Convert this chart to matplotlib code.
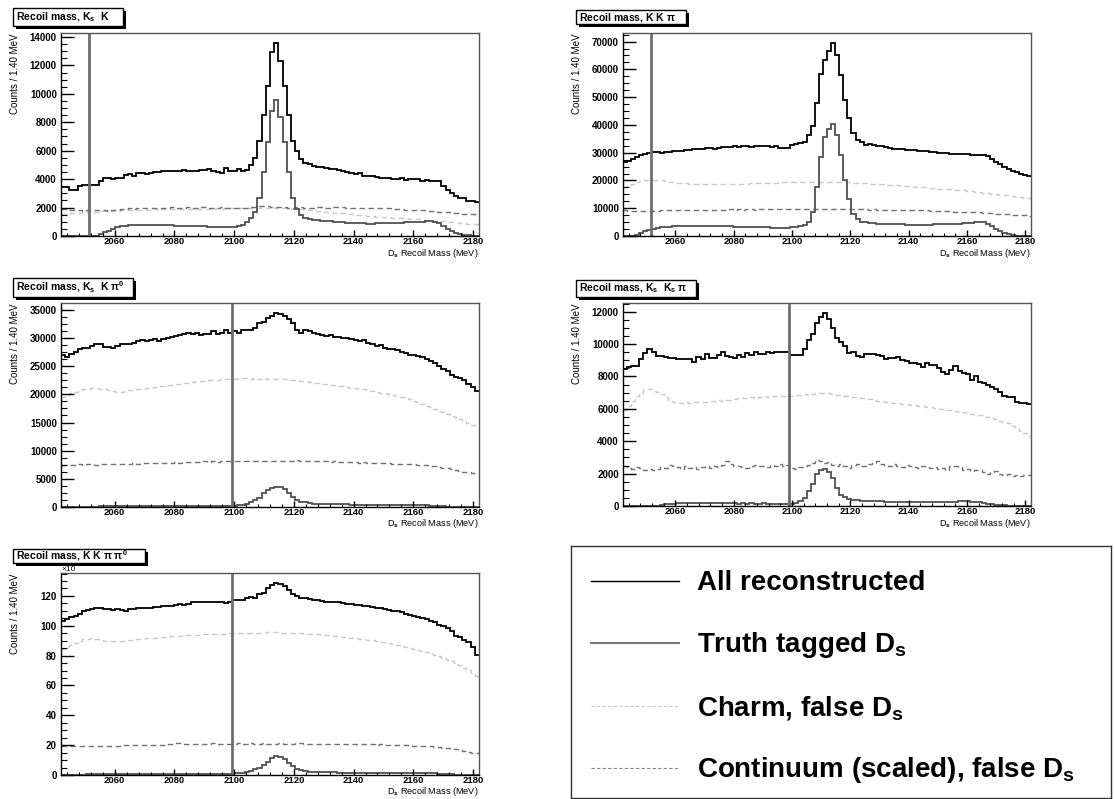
import numpy as np
import matplotlib
matplotlib.use("Agg")
import matplotlib.pyplot as plt
from matplotlib.patches import Rectangle
from matplotlib.lines import Line2D
from matplotlib.ticker import MultipleLocator

plt.rcParams['font.family'] = ['Liberation Sans', 'DejaVu Sans']
plt.rcParams['font.weight'] = 'bold'
plt.rcParams['mathtext.fontset'] = 'custom'
plt.rcParams['mathtext.rm'] = 'Liberation Sans:bold'
plt.rcParams['mathtext.it'] = 'Liberation Sans:bold'
plt.rcParams['mathtext.bf'] = 'Liberation Sans:bold'
plt.rcParams['mathtext.sf'] = 'Liberation Sans:bold'

# binning: 100 bins of 1.40 MeV
lo, width, nbins = 2042.0, 1.4, 100
edges = lo + width * np.arange(nbins + 1)

# ---------------- Ks K ----------------
reco_kskk = [3450, 3460, 3220, 3230, 3550, 3560, 3580, 3600, 3620, 3880,
             4050, 4060, 4040, 4060, 4100, 4300, 4350, 4250, 4400, 4420,
             4350, 4450, 4480, 4500, 4550, 4580, 4600, 4550, 4600, 4620,
             4540, 4600, 4580, 4650, 4620, 4700, 4600, 4500, 4450, 4800,
             4550, 4560, 4700, 4600, 4650, 5000, 5500, 6700, 8500, 10550,
             12950, 13600, 12300, 10550, 8500, 6700, 6000, 5450, 5150, 5050,
             4900, 4850, 4880, 4800, 4700, 4720, 4650, 4550, 4500, 4400,
             4380, 4400, 4250, 4200, 4230, 4150, 4100, 4050, 4080, 4000,
             4000, 4050, 3950, 4000, 4000, 3980, 3900, 3950, 3850, 3870,
             3900, 3500, 3250, 3000, 2800, 2700, 2650, 2480, 2450, 2400]
truth_kskk = [0, 0, 0, 0, 0, 0, 0, 0, 30, 120,
              250, 380, 500, 600, 680, 720, 760, 780, 790, 800,
              790, 780, 780, 770, 760, 750, 740, 730, 720, 710,
              700, 700, 690, 680, 670, 660, 650, 640, 640, 630,
              640, 660, 700, 780, 950, 1250, 1700, 2700, 4500, 6600,
              8800, 9600, 8400, 6600, 4500, 2700, 1900, 1500, 1300, 1200,
              1150, 1100, 1080, 1050, 1030, 1000, 980, 960, 940, 920,
              900, 890, 880, 870, 870, 880, 890, 900, 910, 920,
              930, 940, 950, 960, 980, 1000, 1020, 1050, 1050, 1000,
              900, 700, 500, 350, 220, 140, 80, 40, 20, 10]
charm_kskk = [1560, 1580, 1610, 1600, 1650, 1690, 1700, 1730, 1720, 1760,
              1750, 1770, 1790, 1780, 1800, 1820, 1810, 1840, 1830, 1850,
              1860, 1850, 1870, 1860, 1880, 1870, 1890, 1880, 1900, 1890,
              1900, 1910, 1900, 1920, 1910, 1930, 1920, 1940, 1930, 1950,
              1940, 1960, 1950, 1970, 1960, 1980, 1990, 1980, 2000, 1990,
              2010, 2000, 1990, 1970, 1960, 1930, 1920, 1890, 1870, 1830,
              1810, 1770, 1750, 1710, 1690, 1650, 1630, 1590, 1570, 1530,
              1510, 1470, 1450, 1410, 1400, 1370, 1360, 1330, 1320, 1290,
              1280, 1250, 1240, 1210, 1200, 1170, 1160, 1130, 1120, 1090,
              1070, 1030, 1010, 970, 950, 910, 890, 850, 840, 820]
cont_kskk = [1880, 1900, 1850, 1820, 1800, 1780, 1800, 1820, 1850, 1830,
             1800, 1780, 1800, 1850, 1880, 1900, 1950, 1930, 1960, 1980,
             1950, 1990, 1970, 2000, 1980, 1960, 2010, 1990, 2000, 1970,
             2020, 2000, 1980, 2030, 2010, 1990, 1940, 1980, 2040, 1990,
             1960, 2000, 1980, 1950, 1980, 2010, 2050, 2100, 2120, 2080,
             2060, 2050, 2030, 2010, 1980, 2000, 2010, 2020, 2000, 1990,
             1980, 2020, 2040, 2000, 1990, 2010, 2030, 2010, 1980, 1990,
             1960, 1980, 1950, 1960, 1990, 2000, 1970, 1950, 1940, 1920,
             1900, 1880, 1860, 1850, 1830, 1810, 1800, 1780, 1760, 1740,
             1700, 1720, 1680, 1650, 1630, 1600, 1580, 1550, 1530, 1500]

# ---------------- K K pi ----------------
reco_kkpi = [26500, 27000, 27800, 28400, 29000, 29500, 29900, 30300, 30300, 30000,
             30200, 30400, 30500, 30500, 30600, 30800, 31000, 31200, 31300, 31500,
             31600, 31700, 31500, 31800, 32000, 32200, 31900, 32300, 32200, 32400,
             32300, 32200, 32500, 32300, 32400, 32300, 32200, 32300, 31700, 31600,
             31800, 32600, 33000, 33500, 34000, 36500, 39500, 47800, 58200, 63400,
             66600, 69600, 65200, 58000, 49000, 42500, 37000, 34700, 33700, 32900,
             33000, 32800, 32500, 32300, 32000, 31700, 31500, 31300, 31200, 31100,
             31000, 30900, 30700, 30600, 30500, 30300, 30100, 30000, 29900, 29800,
             29700, 29600, 29600, 29500, 29400, 29300, 29200, 29200, 29000, 28700,
             27800, 26800, 25800, 24900, 24200, 23500, 23000, 22500, 22000, 21500]
truth_kkpi = [0, 0, 0, 400, 1100, 1700, 2200, 2600, 2900, 3100,
              3300, 3400, 3500, 3600, 3700, 3700, 3750, 3750, 3700, 3700,
              3700, 3650, 3600, 3600, 3550, 3500, 3450, 3400, 3350, 3300,
              3300, 3250, 3200, 3200, 3150, 3100, 3050, 3000, 3000, 3000,
              3050, 3150, 3300, 3600, 4100, 5200, 8500, 17500, 28500, 35500,
              38500, 40500, 36500, 29000, 20000, 13500, 8000, 6000, 5200, 4900,
              4700, 4600, 4500, 4400, 4350, 4300, 4250, 4200, 4150, 4100,
              4100, 4050, 4050, 4050, 4100, 4100, 4150, 4200, 4250, 4300,
              4350, 4400, 4500, 4600, 4700, 4800, 4900, 5000, 4900, 4500,
              3600, 2600, 1800, 1100, 600, 300, 150, 80, 40, 20]
charm_kkpi = [17800, 18300, 18800, 19300, 19700, 20000, 20300, 20300, 20200, 20000,
              19800, 19600, 19400, 19200, 19100, 19000, 18900, 18900, 18800, 18800,
              18800, 18700, 18800, 18700, 18800, 18800, 18900, 18800, 18900, 18900,
              18900, 19000, 19000, 19100, 19100, 19100, 19200, 19200, 19300, 19300,
              19300, 19400, 19400, 19400, 19500, 19500, 19500, 19500, 19600, 19500,
              19500, 19500, 19400, 19400, 19300, 19300, 19200, 19200, 19100, 19000,
              18900, 18800, 18700, 18600, 18500, 18400, 18300, 18200, 18100, 18000,
              17900, 17800, 17700, 17600, 17500, 17400, 17300, 17100, 17000, 16900,
              16800, 16600, 16500, 16400, 16200, 16100, 15900, 15800, 15600, 15500,
              15300, 15100, 14900, 14800, 14600, 14400, 14200, 14000, 13800, 13600]
cont_kkpi = [9200, 9100, 9000, 9100, 9000, 8900, 9000, 9100, 9100, 9200,
             9200, 9300, 9200, 9300, 9300, 9400, 9300, 9400, 9400, 9500,
             9400, 9500, 9500, 9400, 9500, 9500, 9600, 9500, 9600, 9500,
             9600, 9600, 9500, 9600, 9700, 9600, 9600, 9700, 9600, 9700,
             9700, 9800, 9700, 9800, 9800, 9900, 9800, 9900, 9900, 9800,
             9800, 9900, 9800, 9800, 9700, 9700, 9700, 9600, 9600, 9600,
             9500, 9600, 9500, 9500, 9400, 9500, 9400, 9400, 9300, 9400,
             9300, 9300, 9200, 9200, 9200, 9100, 9100, 9000, 9000, 8900,
             8900, 8800, 8800, 8700, 8700, 8600, 8500, 8500, 8400, 8300,
             8200, 8100, 8000, 7900, 7800, 7700, 7600, 7500, 7400, 7300]

# ---------------- Ks K pi0 ----------------
reco_kskpi0 = [26950, 26600, 27200, 27500, 28000, 28300, 28300, 28600, 28900, 29000,
               28400, 28400, 28300, 28600, 29000, 28900, 29000, 29200, 29500, 29600,
               29500, 29600, 29750, 29500, 29750, 30000, 30200, 30300, 30500, 30650,
               30950, 30800, 30950, 30500, 30800, 30650, 31200, 30800, 30950, 31400,
               30950, 31200, 30950, 31400, 31500, 31400, 31800, 32700, 32900, 33600,
               33900, 34500, 34300, 33900, 33300, 32700, 31500, 30950, 31500, 31200,
               30950, 30800, 30500, 30300, 30500, 30200, 30200, 30050, 30050, 29900,
               29600, 29450, 29600, 29150, 28860, 28560, 28700, 28260, 27970, 27970,
               27800, 27550, 27370, 27070, 26950, 26780, 26600, 26360, 25880, 25590,
               24990, 24570, 24100, 23500, 23090, 22900, 22500, 21900, 21300, 20600]
truth_kskpi0 = [0, 0, 0, 0, 0, 0, 0, 30, 60, 100,
                130, 160, 180, 200, 210, 220, 220, 230, 230, 230,
                240, 240, 240, 240, 250, 250, 250, 250, 250, 250,
                250, 250, 250, 250, 250, 250, 250, 240, 240, 240,
                240, 250, 300, 420, 600, 800, 1200, 1650, 2400, 3000,
                3400, 3550, 3500, 3150, 2500, 1800, 1300, 950, 800, 700,
                620, 580, 550, 520, 500, 480, 470, 460, 450, 440,
                430, 420, 410, 400, 400, 390, 380, 370, 360, 350,
                350, 340, 330, 320, 310, 300, 290, 270, 240, 200,
                160, 120, 80, 50, 30, 20, 10, 0, 0, 0]
charm_kskpi0 = [19600, 19900, 20200, 20500, 20700, 20900, 21000, 21100, 21100, 21000,
                20900, 20700, 20600, 20500, 20500, 20600, 20700, 20800, 20900, 21000,
                21100, 21200, 21300, 21400, 21500, 21600, 21700, 21800, 21900, 22000,
                22100, 22200, 22300, 22400, 22400, 22500, 22600, 22600, 22700, 22700,
                22800, 22800, 22900, 22900, 22900, 22800, 22900, 22800, 22900, 22800,
                22800, 22800, 22700, 22700, 22600, 22500, 22500, 22400, 22300, 22200,
                22100, 22000, 21900, 21800, 21700, 21600, 21500, 21400, 21300, 21200,
                21100, 21000, 20900, 20700, 20600, 20500, 20300, 20200, 20000, 19900,
                19700, 19500, 19300, 19100, 18800, 18600, 18300, 18000, 17700, 17400,
                17100, 16800, 16500, 16200, 15900, 15600, 15200, 14900, 14600, 14300]
cont_kskpi0 = [7450, 7500, 7400, 7500, 7550, 7500, 7600, 7550, 7500, 7600,
               7600, 7650, 7550, 7600, 7700, 7650, 7700, 7750, 7700, 7800,
               7750, 7800, 7850, 7800, 7900, 7850, 7900, 7950, 7900, 8000,
               8000, 7950, 8050, 8000, 8100, 8050, 8100, 8050, 8150, 8100,
               8150, 8100, 8200, 8150, 8100, 8200, 8150, 8200, 8250, 8200,
               8200, 8250, 8200, 8150, 8250, 8200, 8300, 8200, 8250, 8150,
               8200, 8100, 8150, 8100, 8050, 8100, 8000, 8050, 7950, 8000,
               7950, 7900, 7950, 7850, 7900, 7800, 7850, 7750, 7800, 7700,
               7700, 7650, 7600, 7550, 7600, 7500, 7450, 7400, 7350, 7200,
               7100, 7000, 6850, 6700, 6550, 6400, 6300, 6200, 6100, 6000]

# ---------------- Ks Ks pi ----------------
reco_ksksp = [8440, 8600, 8660, 8660, 9060, 9430, 9690, 9530, 9260, 9260,
              9180, 9120, 9120, 9080, 9060, 9060, 9060, 8910, 9220, 9060,
              9380, 9120, 9120, 9320, 9490, 9260, 9180, 9120, 9320, 9180,
              9430, 9320, 9530, 9380, 9380, 9530, 9470, 9530, 9530, 9530,
              9530, 9320, 9320, 9320, 9690, 10250, 10620, 11280, 11690, 11940,
              11520, 10970, 10350, 10150, 9880, 9470, 9530, 9260, 9180, 9380,
              9380, 9360, 9320, 9260, 9060, 9120, 9120, 9180, 9010, 8970,
              8810, 8850, 8770, 8600, 8810, 8710, 8710, 8500, 8290, 8150,
              8400, 8640, 8350, 8230, 8150, 7780, 8030, 7680, 7610, 7470,
              7370, 7220, 7060, 6790, 6710, 6710, 6440, 6380, 6340, 6300]
truth_ksksp = [0, 0, 0, 0, 0, 0, 0, 0, 20, 60,
               100, 130, 150, 160, 160, 170, 170, 160, 170, 160,
               170, 160, 170, 160, 160, 170, 160, 160, 150, 160,
               150, 160, 150, 150, 160, 150, 150, 140, 150, 150,
               150, 150, 160, 300, 500, 900, 1350, 2000, 2250, 2280,
               2100, 1700, 1100, 700, 550, 450, 380, 340, 330, 320,
               300, 290, 290, 280, 270, 260, 260, 250, 250, 240,
               240, 230, 230, 220, 220, 220, 230, 230, 240, 250,
               260, 270, 280, 280, 280, 270, 250, 220, 180, 150,
               110, 80, 60, 40, 20, 10, 0, 0, 0, 0]
charm_ksksp = [5930, 6200, 6500, 6800, 7000, 7250, 7200, 7100, 7050, 6900,
               6750, 6550, 6450, 6350, 6350, 6400, 6380, 6420, 6450, 6400,
               6450, 6500, 6480, 6520, 6500, 6550, 6520, 6600, 6650, 6700,
               6680, 6720, 6700, 6750, 6780, 6750, 6800, 6780, 6820, 6800,
               6850, 6820, 6870, 6850, 6900, 6880, 6900, 6950, 7000, 7000,
               6950, 6900, 6870, 6850, 6800, 6800, 6750, 6700, 6650, 6620,
               6580, 6550, 6500, 6480, 6420, 6400, 6380, 6350, 6320, 6300,
               6250, 6220, 6200, 6150, 6120, 6100, 6050, 6000, 5980, 5950,
               5900, 5870, 5820, 5780, 5750, 5700, 5650, 5600, 5550, 5500,
               5420, 5350, 5280, 5200, 5100, 4950, 4800, 4650, 4500, 4350]
cont_ksksp = [2450, 2350, 2300, 2400, 2350, 2200, 2300, 2250, 2300, 2400,
              2350, 2550, 2450, 2400, 2300, 2450, 2350, 2400, 2300, 2400,
              2450, 2350, 2500, 2400, 2550, 2750, 2600, 2500, 2450, 2400,
              2350, 2500, 2550, 2450, 2500, 2400, 2550, 2450, 2600, 2500,
              2550, 2350, 2300, 2400, 2450, 2550, 2650, 2850, 2800, 2650,
              2700, 2550, 2500, 2600, 2500, 2350, 2550, 2600, 2450, 2500,
              2600, 2650, 2750, 2600, 2550, 2500, 2600, 2450, 2400, 2550,
              2500, 2400, 2350, 2450, 2400, 2350, 2400, 2300, 2350, 2250,
              2450, 2500, 2400, 2250, 2300, 2150, 2250, 2200, 2100, 2000,
              2100, 2150, 2000, 1900, 1950, 1850, 1900, 1850, 1900, 1910]

# ---------------- K K pi pi0 (units of 10^3) ----------------
reco_kkpipi0 = [103.3, 104.4, 105.6, 106.7, 108.2, 110.0, 110.7, 111.1, 111.6, 111.8,
                111.1, 111.1, 110.7, 111.1, 110.4, 110.0, 111.1, 111.1, 112.2, 111.6,
                111.8, 112.2, 112.7, 112.7, 112.9, 112.9, 112.9, 114.0, 114.4, 113.8,
                114.4, 115.6, 116.2, 115.6, 115.6, 115.6, 115.6, 116.0, 116.0, 115.1,
                115.6, 117.1, 117.1, 117.3, 118.4, 119.3, 118.4, 121.6, 122.2, 125.1,
                127.3, 128.9, 128.2, 126.7, 123.8, 121.6, 120.0, 118.9, 118.4, 117.8,
                117.3, 117.1, 116.7, 116.2, 116.2, 115.8, 115.6, 115.3, 114.9, 114.4,
                114.0, 113.8, 113.3, 112.9, 112.7, 112.2, 111.8, 111.1, 110.7, 110.0,
                109.6, 108.9, 107.8, 107.3, 106.7, 105.6, 104.9, 104.4, 102.9, 102.2,
                100.7, 99.6, 98.4, 96.2, 93.3, 92.2, 90.4, 88.9, 85.5, 80.5]
truth_kkpipi0 = [0, 0, 0, 0, 0, 0.2, 0.4, 0.6, 0.7, 0.8,
                 0.9, 0.9, 1.0, 1.0, 1.0, 1.0, 1.0, 1.0, 1.0, 1.0,
                 1.0, 1.0, 1.0, 1.0, 1.0, 1.0, 1.0, 1.0, 1.0, 1.0,
                 1.0, 1.0, 1.0, 1.0, 1.0, 1.0, 1.0, 1.0, 1.0, 1.0,
                 1.0, 1.1, 1.3, 1.6, 2.0, 2.8, 3.8, 5.0, 6.7, 9.0,
                 11.3, 12.6, 12.2, 10.5, 8.2, 5.8, 4.2, 3.2, 2.6, 2.3,
                 2.1, 2.0, 1.9, 1.8, 1.7, 1.7, 1.6, 1.6, 1.5, 1.5,
                 1.5, 1.4, 1.4, 1.4, 1.4, 1.4, 1.4, 1.4, 1.4, 1.4,
                 1.4, 1.4, 1.4, 1.4, 1.4, 1.4, 1.4, 1.4, 1.3, 1.2,
                 1.0, 0.8, 0.6, 0.4, 0.3, 0.2, 0.1, 0.1, 0, 0]
charm_kkpipi0 = [84.5, 85.8, 87.2, 88.4, 89.6, 90.8, 91.4, 91.5, 91.2, 90.6,
                 90.0, 89.8, 89.6, 89.7, 89.9, 90.2, 90.4, 90.7, 91.0, 91.2,
                 91.5, 91.7, 92.0, 92.2, 92.4, 92.6, 92.9, 93.1, 93.3, 93.5,
                 93.7, 93.8, 94.0, 94.1, 94.3, 94.4, 94.5, 94.6, 94.7, 94.8,
                 94.9, 95.0, 95.1, 95.2, 95.2, 95.3, 95.3, 95.4, 95.4, 95.5,
                 95.5, 95.5, 95.4, 95.4, 95.3, 95.2, 95.1, 94.9, 94.8, 94.6,
                 94.4, 94.2, 94.0, 93.8, 93.5, 93.3, 93.0, 92.7, 92.4, 92.1,
                 91.8, 91.4, 91.0, 90.6, 90.2, 89.8, 89.3, 88.8, 88.3, 87.8,
                 87.2, 86.6, 86.0, 85.3, 84.6, 83.9, 83.1, 82.3, 81.4, 80.5,
                 79.5, 78.4, 77.3, 76.1, 74.8, 73.4, 71.9, 70.2, 68.3, 66.2]
cont_kkpipi0 = [19.6, 19.5, 19.7, 19.4, 19.6, 19.5, 19.7, 19.6, 19.5, 19.6,
                19.4, 19.5, 19.3, 19.5, 19.6, 19.8, 20.0, 20.1, 20.0, 20.2,
                20.2, 20.3, 20.2, 20.4, 20.3, 20.5, 20.8, 21.2, 21.3, 21.1,
                21.0, 21.1, 20.9, 21.0, 21.1, 21.0, 21.2, 21.0, 21.1, 21.0,
                21.1, 21.0, 21.2, 21.1, 21.0, 21.2, 21.1, 21.0, 21.2, 21.1,
                21.0, 21.1, 21.2, 21.0, 21.1, 21.0, 21.2, 21.3, 21.1, 21.0,
                21.1, 21.0, 21.0, 20.9, 21.0, 20.8, 20.9, 20.8, 20.7, 20.8,
                20.7, 20.6, 20.7, 20.5, 20.6, 20.4, 20.5, 20.3, 20.4, 20.2,
                20.1, 20.0, 19.9, 19.8, 19.7, 19.5, 19.4, 19.2, 19.1, 18.9,
                18.6, 18.3, 18.0, 17.6, 17.2, 16.7, 16.2, 15.6, 15.0, 14.5]

titles = [r"Recoil mass, K$_{\mathrm{s}}$  K",
          r"Recoil mass, K K $\pi$",
          r"Recoil mass, K$_{\mathrm{s}}$  K $\pi^{0}$",
          r"Recoil mass, K$_{\mathrm{s}}$  K$_{\mathrm{s}}$ $\pi$",
          r"Recoil mass, K K $\pi$ $\pi^{0}$"]
cuts = [2051.5, 2051.5, 2099.2, 2099.0, 2099.2]
label_names = ["All reconstructed", r"Truth tagged D$_{\mathrm{s}}$",
               r"Charm, false D$_{\mathrm{s}}$", r"Continuum (scaled), false D$_{\mathrm{s}}$"]

W, H = 1114, 799
fig = plt.figure(figsize=(W / 100, H / 100), dpi=100)


def px_rect(l, t, r, b):
    return [l / W, 1 - b / H, (r - l) / W, (b - t) / H]


panels = [
    (reco_kskk, truth_kskk, charm_kskk, cont_kskk, 2000, 500, (61, 33, 479, 236), (13, 8, 110, 18)),
    (reco_kkpi, truth_kkpi, charm_kkpi, cont_kkpi, 10000, 2500, (623, 33, 1031, 236), (576, 10, 110, 14)),
    (reco_kskpi0, truth_kskpi0, charm_kskpi0, cont_kskpi0, 5000, 1250, (61, 303, 479, 507), (13, 278, 120, 19)),
    (reco_ksksp, truth_ksksp, charm_ksksp, cont_ksksp, 2000, 500, (623, 303, 1031, 506), (576, 280, 120, 17)),
    (reco_kkpipi0, truth_kkpipi0, charm_kkpipi0, cont_kkpipi0, 20, 5, (61, 573, 479, 775), (13, 549, 132, 14)),
]

styles = dict(
    reco=dict(color='black', lw=1.3),
    truth=dict(color='#505050', lw=1.3),
    charm=dict(color='#c8c8c8', lw=1.0, ls=(0, (4, 2.5))),
    cont=dict(color='#707070', lw=1.0, ls=(0, (4, 2.5))),
)

for k, (reco, truth, charm, cont, major, minor, rect, tbox) in enumerate(panels):
    l, t, r, b = rect
    ax = fig.add_axes(px_rect(l, t, r, b))
    ax.stairs(charm, edges, baseline=None, **styles['charm'])
    ax.stairs(cont, edges, baseline=None, **styles['cont'])
    ax.stairs(truth, edges, baseline=None, **styles['truth'])
    ax.stairs(reco, edges, baseline=None, **styles['reco'])
    ax.axvline(cuts[k], color='#6e6e6e', lw=2.0)

    ax.set_xlim(edges[0], edges[-1])
    ax.set_ylim(0, 1.05 * max(reco))
    ax.xaxis.set_major_locator(MultipleLocator(20))
    ax.xaxis.set_minor_locator(MultipleLocator(4))
    ax.yaxis.set_major_locator(MultipleLocator(major))
    ax.yaxis.set_minor_locator(MultipleLocator(minor))
    ax.tick_params(which='both', direction='in', top=False, right=False)
    ax.tick_params(axis='y', which='major', length=9, width=1.0, labelsize=7, pad=3)
    ax.tick_params(axis='y', which='minor', length=4.5, width=0.8)
    ax.tick_params(axis='x', which='major', length=4, width=1.0, labelsize=6.8, pad=1)
    ax.tick_params(axis='x', which='minor', length=2, width=0.8)
    for s in ('left', 'bottom'):
        ax.spines[s].set_color('black')
        ax.spines[s].set_linewidth(1.0)
    for s in ('top', 'right'):
        ax.spines[s].set_color('#555555')
        ax.spines[s].set_linewidth(1.0)

    # ROOT puts the y title at the top of the axis
    ax.set_ylabel('Counts / 1.40 MeV', fontsize=7, loc='top')
    ax.yaxis.set_label_coords(-(61 - 20) / (r - l), 1.0)
    ax.set_xlabel(r'D$_{\mathrm{s}}$ Recoil Mass (MeV)', fontsize=6.6, loc='right')
    ax.xaxis.set_label_coords(1.0, -10.5 / (b - t))
    if k == 4:
        ax.text(0.0, 1.0, '\u00d710', transform=ax.transAxes, fontsize=6,
                fontweight='normal', ha='left', va='bottom')

    # title box with black shadow
    bl, bt, bw, bh = tbox
    fig.patches.append(Rectangle(((bl + 3) / W, 1 - (bt + bh + 3) / H), bw / W, bh / H,
                                 transform=fig.transFigure, facecolor='black', edgecolor='none'))
    fig.patches.append(Rectangle((bl / W, 1 - (bt + bh) / H), bw / W, bh / H,
                                 transform=fig.transFigure, facecolor='white',
                                 edgecolor='black', lw=1.0))
    fig.text((bl + 3) / W, 1 - (bt + bh / 2) / H, titles[k], fontsize=7.5,
             ha='left', va='center')

# legend box
lax = fig.add_axes(px_rect(571, 546, 1111, 798))
lax.set_xlim(0, 540)
lax.set_ylim(252, 0)
lax.set_xticks([])
lax.set_yticks([])
for s in lax.spines.values():
    s.set_color('#333333')
    s.set_linewidth(1.0)
leg_styles = [dict(color='black', lw=1.0),
              dict(color='#777777', lw=1.5),
              dict(color='#c8c8c8', lw=0.8, ls=(0, (3, 2))),
              dict(color='#888888', lw=0.8, ls=(0, (3, 2)))]
rows = [35, 97, 160, 222]
for ypos, name, st in zip(rows, label_names, leg_styles):
    lax.add_line(Line2D([20, 108], [ypos, ypos], **st))
    lax.text(126, ypos + 9, name, fontsize=20, ha='left', va='baseline')

fig.savefig('out.png', dpi=100)
